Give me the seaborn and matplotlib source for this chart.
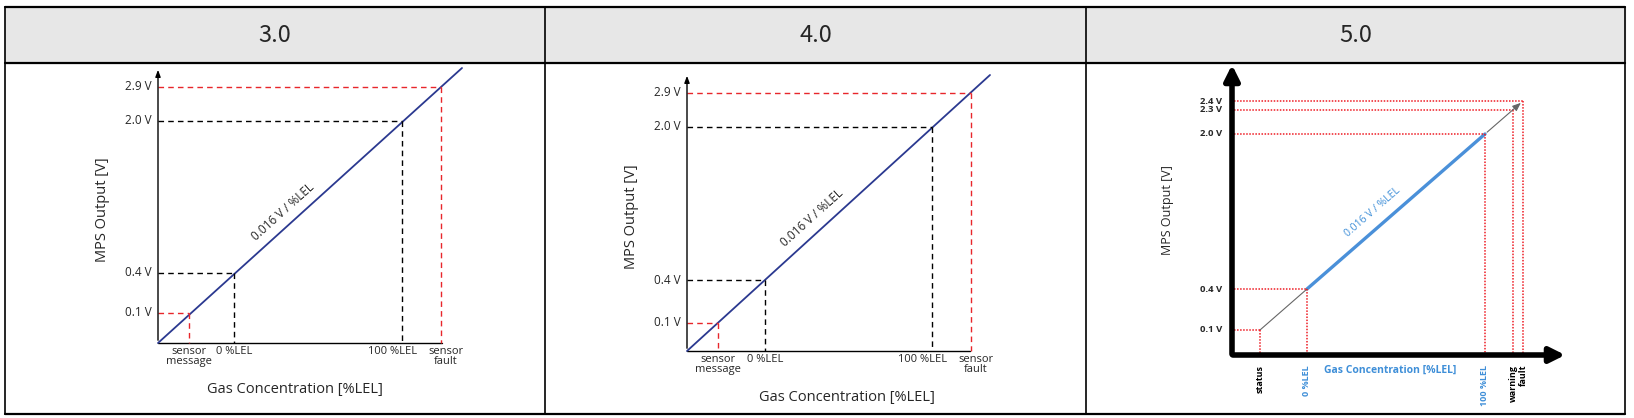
import numpy as np
import matplotlib
matplotlib.use('Agg')
import matplotlib.pyplot as plt
import seaborn as sns
import pandas as pd

sns.set_style('white')
plt.rcParams['font.family'] = ['Open Sans', 'DejaVu Sans']

# Tabellenköpfe
versions = ['3.0', '4.0', '5.0']

# Panel 3.0 (Diagrammpositionen in Pixeln, Diagramm nicht maßstäblich)
p1_origin = (158, 343)
p1_top = 67
p1_end = (462, 68)
p1_levels = ['0.1 V', '0.4 V', '2.0 V', '2.9 V']
p1_y = [313, 273, 121, 87]
p1_x = [189, 234, 402, 441]
p1_xlabels = ['sensor\nmessage', '0 %LEL', '100 %LEL', 'sensor\nfault']
p1_col = ['#e8262b', 'black', 'black', '#e8262b']

# Panel 4.0
p2_origin = (687, 351)
p2_top = 73
p2_end = (990, 75)
p2_levels = ['0.1 V', '0.4 V', '2.0 V', '2.9 V']
p2_y = [323, 280, 127, 93]
p2_x = [718, 765, 932, 971]
p2_xlabels = ['sensor\nmessage', '0 %LEL', '100 %LEL', 'sensor\nfault']
p2_col = ['#e8262b', 'black', 'black', '#e8262b']

# Panel 5.0
p3_origin = (1232, 355)
p3_top = 62
p3_right = 1568
p3_levels = ['0.1 V', '0.4 V', '2.0 V', '2.3 V', '2.4 V']
p3_y = [330, 289, 134, 110, 101]
p3_x = [1260, 1307, 1485, 1513, 1523]
p3_xlabels = ['status', '0 %LEL', '100 %LEL', 'warning', 'fault']
p3_xcol = ['black', '#3f8fd8', '#3f8fd8', 'black', 'black']

# kleine Verschiebungen der x-Beschriftungen (gegen Überlappung)
label_shift = [0, 0, -9, 5]

fig = plt.figure(figsize=(16.34, 4.18), dpi=100)
ax = fig.add_axes([0, 0, 1, 1])
ax.set_xlim(0, 1634)
ax.set_ylim(418, 0)
ax.axis('off')

# Tabelle
L, R, T, HB, B = 5, 1625, 7, 63, 414
cols = [L, 545, 1086, R]
ax.fill_between([L, R], T, HB, color='#e7e7e7', zorder=0)
for yy in [T, HB, B]:
    ax.plot([L, R], [yy, yy], color='black', lw=1.6)
for xx in cols:
    ax.plot([xx, xx], [T, B], color='black', lw=1.2)
for i, v in enumerate(versions):
    ax.text((cols[i] + cols[i + 1]) / 2, (T + HB) / 2 + 1, v, ha='center', va='center', fontsize=17,
            family=['Noto Sans CJK KR', 'DejaVu Sans'])


def classic_panel(origin, top, end, levels, ys, xs, xlabels, cols_, ylab_pos, xlab_pos, slope_pos):
    ox, oy = origin
    ax.annotate('', xy=(ox, top), xytext=(ox, oy),
                arrowprops=dict(arrowstyle='-|>,head_width=0.15,head_length=0.4', color='black', lw=1))
    ax.plot([ox, end[0] - 20], [oy, oy], color='black', lw=1)
    df = pd.DataFrame({'x': [ox, end[0]], 'y': [oy, end[1]]})
    sns.lineplot(data=df, x='x', y='y', ax=ax, color='#2b3990', lw=1.3, legend=False)
    for lv, yy, xx, xl, c, sh in zip(levels, ys, xs, xlabels, cols_, label_shift):
        ax.plot([ox, xx], [yy, yy], color=c, lw=1, ls=(0, (4, 3)))
        ax.plot([xx, xx], [yy, oy], color=c, lw=1, ls=(0, (4, 3)))
        ax.text(ox - 6, yy, lv, ha='right', va='center', fontsize=8.5)
        ax.text(xx + sh, oy + 3, xl, ha='center', va='top', fontsize=8, linespacing=0.9)
    ax.text(*ylab_pos, 'MPS Output [V]', rotation=90, ha='center', va='center', fontsize=10.5)
    ax.text(*xlab_pos, 'Gas Concentration [%LEL]', ha='center', va='center', fontsize=10.5)
    ax.text(*slope_pos, '0.016 V / %LEL', rotation=42, ha='center', va='center', fontsize=8.5,
            rotation_mode='anchor')


classic_panel(p1_origin, p1_top, p1_end, p1_levels, p1_y, p1_x, p1_xlabels, p1_col,
              (103, 210), (295, 390), (283, 212))
classic_panel(p2_origin, p2_top, p2_end, p2_levels, p2_y, p2_x, p2_xlabels, p2_col,
              (632, 217), (847, 398), (812, 218))

# Panel 5.0
ox, oy = p3_origin
ax.annotate('', xy=(ox, p3_top), xytext=(ox, oy + 2),
            arrowprops=dict(arrowstyle='-|>,head_width=0.45,head_length=0.9', color='black', lw=4))
ax.annotate('', xy=(p3_right, oy), xytext=(ox - 2, oy),
            arrowprops=dict(arrowstyle='-|>,head_width=0.45,head_length=0.9', color='black', lw=4))
seg = pd.DataFrame({'x': [p3_x[1], p3_x[2]], 'y': [p3_y[1], p3_y[2]]})
sns.lineplot(data=seg, x='x', y='y', ax=ax, color='#4a90d9', lw=2.4, legend=False)
ax.plot([p3_x[0], p3_x[1]], [p3_y[0], p3_y[1]], color='#666666', lw=0.8)
ax.annotate('', xy=(p3_x[4], p3_y[4]), xytext=(p3_x[2], p3_y[2]),
            arrowprops=dict(arrowstyle='-|>,head_width=0.2,head_length=0.5', color='#666666', lw=0.8))
for lv, yy, xx in zip(p3_levels, p3_y, p3_x):
    ax.plot([ox + 2, xx], [yy, yy], color='#ee1c24', lw=1.1, ls=(0, (1, 1)))
    ax.plot([xx, xx], [yy, oy - 2], color='#ee1c24', lw=1.1, ls=(0, (1, 1)))
    ax.text(ox - 10, yy, lv, ha='right', va='center', fontsize=6.8, fontweight='bold')
for xx, xl, c in zip(p3_x, p3_xlabels, p3_xcol):
    ax.text(xx, oy + 10, xl, rotation=90, ha='center', va='top', fontsize=6.5, fontweight='bold', color=c)
ax.text(1168, 210, 'MPS Output [V]', rotation=90, ha='center', va='center', fontsize=9)
ax.text(1390, 370, 'Gas Concentration [%LEL]', ha='center', va='center', fontsize=7.5,
        fontweight='bold', color='#3f8fd8')
ax.text(1373, 212, '0.016 V / %LEL', rotation=41, ha='center', va='center', fontsize=7.5,
        color='#3f8fd8', rotation_mode='anchor')

fig.savefig('out.png', dpi=100)
